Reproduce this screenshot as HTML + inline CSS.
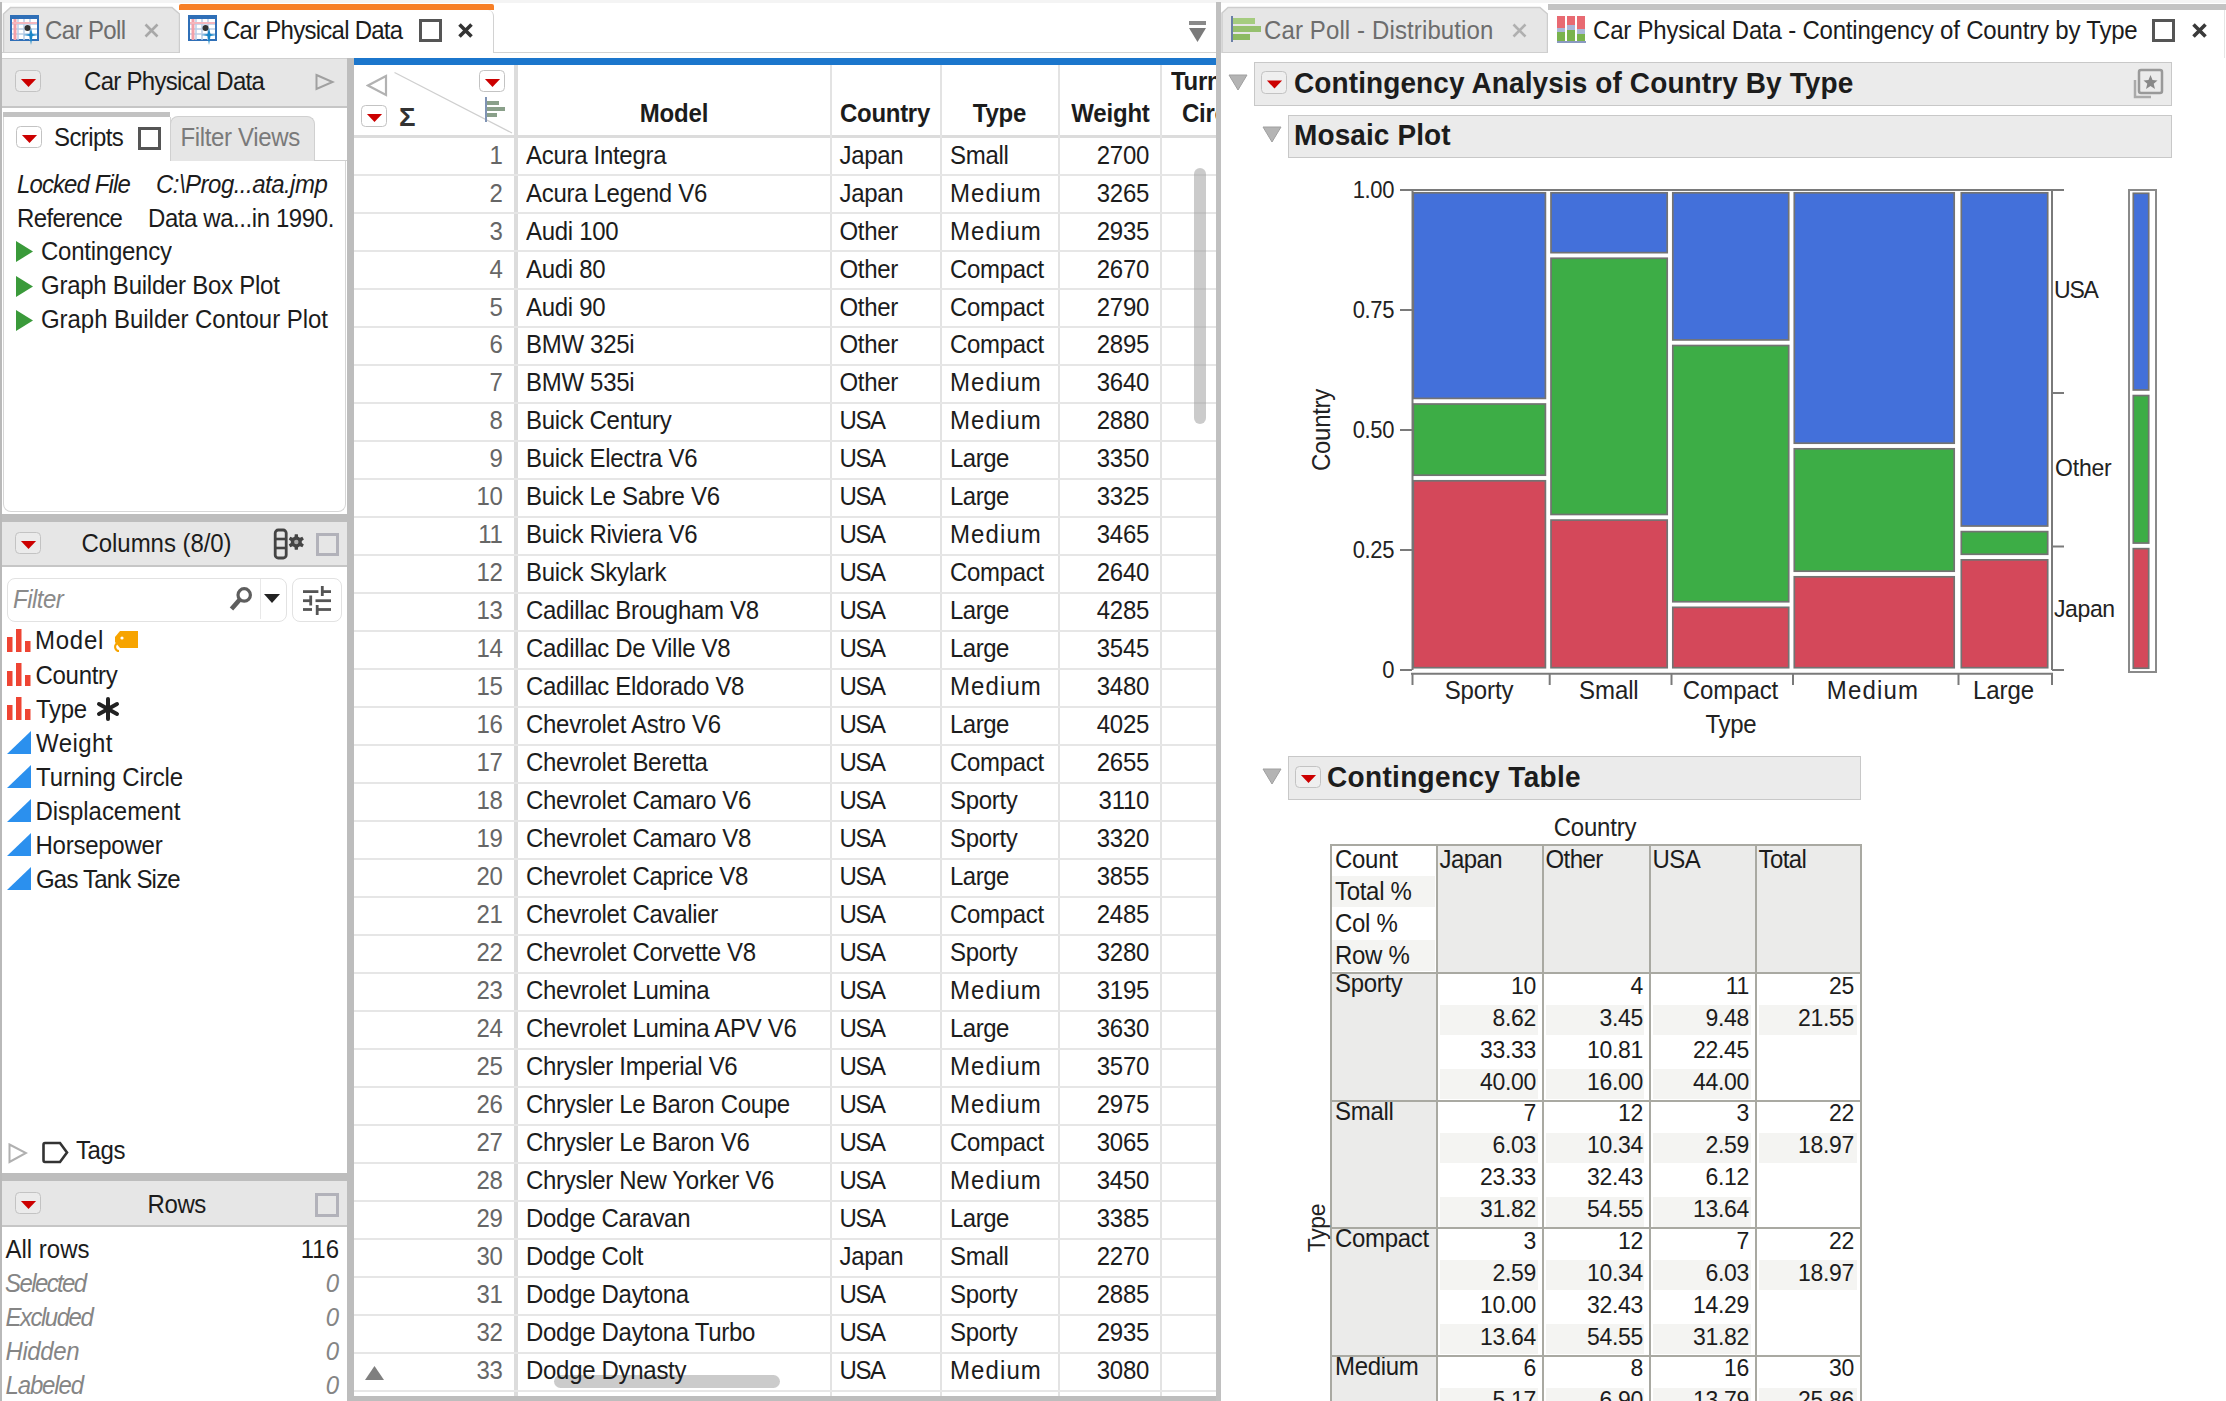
<!DOCTYPE html><html><head><meta charset="utf-8"><style>html,body{margin:0;padding:0;width:2226px;height:1401px;overflow:hidden;background:#fff;}body{font-family:"Liberation Sans", sans-serif;position:relative;}div,svg{position:absolute;box-sizing:content-box;}.t{white-space:nowrap;transform:scaleY(1.06);transform-origin:0 0.8467em;}</style></head><body>
<div style="left:0px;top:0px;width:2226px;height:3px;background:#f4f4f4;"></div>
<div style="left:0px;top:2px;width:2px;height:1401px;background:#b9b9b9;"></div>
<svg style="left:0px;top:0px;" width="200" height="56" viewBox="0 0 200 56"><path d="M3.5 53 V14 L10.5 7.5 H172 L179.5 14 V53" fill="#e6e6e6" stroke="#cdcdcd" stroke-width="1.5"/></svg>
<svg style="left:10px;top:15px;" width="31" height="31" viewBox="0 0 31 31"><rect x="1" y="1" width="27" height="24" fill="#fff" stroke="#2f6fb7" stroke-width="2"/><rect x="1" y="1" width="27" height="3" fill="#2f6fb7"/><g stroke="#b9cde6" stroke-width="1.5"><line x1="2" y1="9" x2="27" y2="9"/><line x1="2" y1="14" x2="27" y2="14"/><line x1="2" y1="19" x2="27" y2="19"/><line x1="8" y1="4" x2="8" y2="25"/><line x1="14" y1="4" x2="14" y2="25"/><line x1="20" y1="4" x2="20" y2="25"/></g><line x1="5" y1="4" x2="5" y2="25" stroke="#f3a0a8" stroke-width="3"/><line x1="2" y1="8" x2="27" y2="8" stroke="#f4b6bd" stroke-width="2"/><circle cx="17.5" cy="13" r="3" fill="#333"/><path d="M21 13 L22.5 19 L29 20 L22.5 21 L21 30 L19.5 21 L13 20 L19.5 19 Z" fill="#1a86c8"/></svg>
<div class="t" style="top:18.68px;font-size:24px;line-height:1;color:#6d6d6d;letter-spacing:-0.6px;left:45px;">Car Poll</div>
<svg style="left:144px;top:23px;" width="15" height="15" viewBox="0 0 15 15"><path d="M1.5 1.5 L13.5 13.5 M13.5 1.5 L1.5 13.5" stroke="#a8a8a8" stroke-width="2.6"/></svg>
<div style="left:179px;top:4px;width:315px;height:6px;background:#f77f26;border-radius:2px 2px 0 0;"></div>
<div style="left:180px;top:10px;width:313px;height:43px;background:#fff;border-right:1px solid #d2d2d2;border-top-right-radius:6px;"></div>
<svg style="left:188px;top:15px;" width="31" height="31" viewBox="0 0 31 31"><rect x="1" y="1" width="27" height="24" fill="#fff" stroke="#2f6fb7" stroke-width="2"/><rect x="1" y="1" width="27" height="3" fill="#2f6fb7"/><g stroke="#b9cde6" stroke-width="1.5"><line x1="2" y1="9" x2="27" y2="9"/><line x1="2" y1="14" x2="27" y2="14"/><line x1="2" y1="19" x2="27" y2="19"/><line x1="8" y1="4" x2="8" y2="25"/><line x1="14" y1="4" x2="14" y2="25"/><line x1="20" y1="4" x2="20" y2="25"/></g><line x1="5" y1="4" x2="5" y2="25" stroke="#f3a0a8" stroke-width="3"/><line x1="2" y1="8" x2="27" y2="8" stroke="#f4b6bd" stroke-width="2"/><circle cx="17.5" cy="13" r="3" fill="#333"/><path d="M21 13 L22.5 19 L29 20 L22.5 21 L21 30 L19.5 21 L13 20 L19.5 19 Z" fill="#1a86c8"/></svg>
<div class="t" style="top:18.68px;font-size:24px;line-height:1;color:#1c1c1c;letter-spacing:-0.75px;left:223px;">Car Physical Data</div>
<div style="left:419px;top:19px;width:17px;height:17px;border:3px solid #555;"></div>
<svg style="left:458px;top:23px;" width="15" height="15" viewBox="0 0 15 15"><path d="M1.5 1.5 L13.5 13.5 M13.5 1.5 L1.5 13.5" stroke="#333" stroke-width="3.6"/></svg>
<div style="left:2px;top:52px;width:177px;height:1px;background:#cfcfcf;"></div>
<div style="left:494px;top:52px;width:722px;height:1px;background:#d2d2d2;"></div>
<svg style="left:1188px;top:20px;" width="20" height="24" viewBox="0 0 20 24"><rect x="1" y="1" width="17" height="4" fill="#8a8a8a"/><polygon points="1,8 18,8 9.5,22" fill="#7a7a7a"/></svg>
<div style="left:2px;top:58px;width:345px;height:47px;background:#e6e6e6;border-top:1px solid #cfcfcf;border-bottom:2px solid #c6c6c6;"></div>
<div style="left:15px;top:70px;width:24px;height:20px;border:1.5px solid #c3c3c3;border-radius:4.5px;background:rgba(255,255,255,0.2);"></div>
<svg style="left:15px;top:70px;" width="27" height="23" viewBox="0 0 27 23"><polygon points="5.9,8.9 21.1,8.9 13.5,17.1" fill="#cc0000"/></svg>
<div class="t" style="top:69.68px;font-size:24px;line-height:1;color:#1c1c1c;letter-spacing:-0.7px;left:84px;">Car Physical Data</div>
<svg style="left:313px;top:72px;" width="22" height="22" viewBox="0 0 22 22"><polygon points="3.5,3 19.5,10 3.5,17" fill="none" stroke="#a0a0a0" stroke-width="2"/></svg>
<div style="left:3px;top:112px;width:167px;height:5px;background:#c2c2c2;"></div>
<div style="left:3px;top:117px;width:166px;height:45px;background:#fff;border-left:1px solid #d6d6d6;border-right:1px solid #d6d6d6;"></div>
<div style="left:16px;top:126px;width:24px;height:20px;border:1.5px solid #c3c3c3;border-radius:4.5px;background:rgba(255,255,255,0.2);"></div>
<svg style="left:16px;top:126px;" width="27" height="23" viewBox="0 0 27 23"><polygon points="5.9,8.9 21.1,8.9 13.5,17.1" fill="#cc0000"/></svg>
<div class="t" style="top:126.18px;font-size:24px;line-height:1;color:#1c1c1c;letter-spacing:-0.6px;left:54px;">Scripts</div>
<div style="left:138px;top:127px;width:17px;height:17px;border:3px solid #555;"></div>
<div style="left:170px;top:116px;width:143px;height:44px;background:#e6e6e6;border:1px solid #d0d0d0;border-bottom:none;border-radius:8px 8px 0 0;"></div>
<div class="t" style="top:126.18px;font-size:24px;line-height:1;color:#7a7a7a;letter-spacing:-0.35px;left:180.5px;">Filter Views</div>
<div style="left:314px;top:160px;width:33px;height:1px;background:#d0d0d0;"></div>
<div style="left:3px;top:161px;width:341px;height:350px;background:#fff;border:1px solid #d6d6d6;border-top:none;border-radius:0 0 8px 8px;"></div>
<div class="t" style="top:172.68px;font-size:24px;line-height:1;color:#1c1c1c;font-style:italic;letter-spacing:-0.9px;left:17px;">Locked File</div>
<div class="t" style="top:172.68px;font-size:24px;line-height:1;color:#1c1c1c;font-style:italic;letter-spacing:-0.52px;left:156px;">C:\Prog...ata.jmp</div>
<div class="t" style="top:206.68px;font-size:24px;line-height:1;color:#1c1c1c;letter-spacing:-0.6px;left:17px;">Reference</div>
<div class="t" style="top:206.68px;font-size:24px;line-height:1;color:#1c1c1c;letter-spacing:-0.42px;left:148px;">Data wa...in 1990.</div>
<svg style="left:16px;top:241.39999999999998px;" width="18" height="22" viewBox="0 0 18 22"><polygon points="0,0 17,10.5 0,21" fill="#3a9a3a"/></svg>
<div class="t" style="top:240.08px;font-size:24px;line-height:1;color:#1c1c1c;letter-spacing:-0.25px;left:41px;">Contingency</div>
<svg style="left:16px;top:275.59999999999997px;" width="18" height="22" viewBox="0 0 18 22"><polygon points="0,0 17,10.5 0,21" fill="#3a9a3a"/></svg>
<div class="t" style="top:274.28px;font-size:24px;line-height:1;color:#1c1c1c;letter-spacing:-0.25px;left:41px;">Graph Builder Box Plot</div>
<svg style="left:16px;top:309.79999999999995px;" width="18" height="22" viewBox="0 0 18 22"><polygon points="0,0 17,10.5 0,21" fill="#3a9a3a"/></svg>
<div class="t" style="top:308.48px;font-size:24px;line-height:1;color:#1c1c1c;letter-spacing:-0.05px;left:41px;">Graph Builder Contour Plot</div>
<div style="left:2px;top:514px;width:345px;height:8px;background:#bdbdbd;"></div>
<div style="left:2px;top:522px;width:345px;height:43px;background:#e6e6e6;border-bottom:2px solid #c6c6c6;"></div>
<div style="left:15px;top:532px;width:24px;height:20px;border:1.5px solid #c3c3c3;border-radius:4.5px;background:rgba(255,255,255,0.2);"></div>
<svg style="left:15px;top:532px;" width="27" height="23" viewBox="0 0 27 23"><polygon points="5.9,8.9 21.1,8.9 13.5,17.1" fill="#cc0000"/></svg>
<div class="t" style="top:532.08px;font-size:24px;line-height:1;color:#1c1c1c;letter-spacing:-0.05px;left:81.5px;">Columns (8/0)</div>
<svg style="left:272px;top:527px;" width="34" height="34" viewBox="0 0 34 34"><rect x="3.2" y="3" width="11" height="28" rx="3" fill="none" stroke="#444" stroke-width="2.8"/><line x1="3" y1="12" x2="14.5" y2="12" stroke="#444" stroke-width="2.6"/><line x1="3" y1="21" x2="14.5" y2="21" stroke="#444" stroke-width="2.6"/><polygon points="22.77,7.15 25.83,7.15 26.12,9.71 27.97,10.77 30.34,9.75 31.86,12.40 29.80,13.93 29.80,16.07 31.86,17.60 30.34,20.25 27.97,19.23 26.12,20.29 25.83,22.85 22.77,22.85 22.48,20.29 20.63,19.23 18.26,20.25 16.74,17.60 18.80,16.07 18.80,13.93 16.74,12.40 18.26,9.75 20.63,10.77 22.48,9.71" fill="#444"/><circle cx="24.3" cy="15" r="2.2" fill="#aaa"/></svg>
<div style="left:316px;top:533px;width:17px;height:17px;border:3px solid #b2b2ba;"></div>
<div style="left:7px;top:578px;width:278px;height:42px;border:1px solid #e2e2e2;border-radius:8px;background:#fff;"></div>
<div style="left:260px;top:579px;width:1px;height:40px;background:#e8e8e8;"></div>
<div class="t" style="top:587.68px;font-size:24px;line-height:1;color:#8a8a8a;font-style:italic;letter-spacing:-0.5px;left:13px;">Filter</div>
<svg style="left:226px;top:584px;" width="32" height="32" viewBox="0 0 32 32"><circle cx="18.2" cy="10.9" r="6.2" fill="none" stroke="#5e5e5e" stroke-width="3.2"/><line x1="13.6" y1="15.8" x2="5.5" y2="25" stroke="#5e5e5e" stroke-width="4.6"/></svg>
<svg style="left:263px;top:593px;" width="18" height="11" viewBox="0 0 18 11"><polygon points="1,1 17,1 9,10" fill="#222"/></svg>
<div style="left:292px;top:578px;width:48px;height:42px;border:1px solid #e2e2e2;border-radius:8px;background:#fff;"></div>
<svg style="left:300px;top:582px;" width="36" height="36" viewBox="0 0 36 36"><g stroke="#555" stroke-width="2.8"><line x1="3" y1="9.6" x2="18.4" y2="9.6"/><line x1="21" y1="9.6" x2="31" y2="9.6"/><line x1="22.3" y1="4" x2="22.3" y2="14"/><line x1="3" y1="18.7" x2="10.5" y2="18.7"/><line x1="15.5" y1="18.7" x2="31" y2="18.7"/><line x1="10.7" y1="13.5" x2="10.7" y2="23.5"/><line x1="3" y1="27.5" x2="12" y2="27.5"/><line x1="16" y1="27.5" x2="31" y2="27.5"/><line x1="17.2" y1="23" x2="17.2" y2="33"/></g></svg>
<svg style="left:7px;top:629.3px;" width="25" height="24" viewBox="0 0 25 24"><rect x="0" y="8" width="5.5" height="15" fill="#ee4433"/><rect x="9" y="0" width="5.5" height="23" fill="#ee4433"/><rect x="18" y="12" width="5.5" height="11" fill="#ee4433"/></svg>
<div class="t" style="top:629.48px;font-size:24px;line-height:1;color:#1c1c1c;letter-spacing:0.75px;left:35px;">Model</div>
<svg style="left:7px;top:663.38px;" width="25" height="24" viewBox="0 0 25 24"><rect x="0" y="8" width="5.5" height="15" fill="#ee4433"/><rect x="9" y="0" width="5.5" height="23" fill="#ee4433"/><rect x="18" y="12" width="5.5" height="11" fill="#ee4433"/></svg>
<div class="t" style="top:663.56px;font-size:24px;line-height:1;color:#1c1c1c;letter-spacing:-0.3px;left:35.5px;">Country</div>
<svg style="left:7px;top:697.4599999999999px;" width="25" height="24" viewBox="0 0 25 24"><rect x="0" y="8" width="5.5" height="15" fill="#ee4433"/><rect x="9" y="0" width="5.5" height="23" fill="#ee4433"/><rect x="18" y="12" width="5.5" height="11" fill="#ee4433"/></svg>
<div class="t" style="top:697.64px;font-size:24px;line-height:1;color:#1c1c1c;letter-spacing:-0.3px;left:36px;">Type</div>
<svg style="left:7px;top:731.04px;" width="25" height="24" viewBox="0 0 25 24"><polygon points="0,23 24,23 24,0" fill="#2b90ee"/></svg>
<div class="t" style="top:731.72px;font-size:24px;line-height:1;color:#1c1c1c;letter-spacing:0.45px;left:36px;">Weight</div>
<svg style="left:7px;top:765.1199999999999px;" width="25" height="24" viewBox="0 0 25 24"><polygon points="0,23 24,23 24,0" fill="#2b90ee"/></svg>
<div class="t" style="top:765.80px;font-size:24px;line-height:1;color:#1c1c1c;letter-spacing:-0.1px;left:36px;">Turning Circle</div>
<svg style="left:7px;top:799.1999999999999px;" width="25" height="24" viewBox="0 0 25 24"><polygon points="0,23 24,23 24,0" fill="#2b90ee"/></svg>
<div class="t" style="top:799.88px;font-size:24px;line-height:1;color:#1c1c1c;letter-spacing:-0.05px;left:35.5px;">Displacement</div>
<svg style="left:7px;top:833.28px;" width="25" height="24" viewBox="0 0 25 24"><polygon points="0,23 24,23 24,0" fill="#2b90ee"/></svg>
<div class="t" style="top:833.96px;font-size:24px;line-height:1;color:#1c1c1c;letter-spacing:-0.25px;left:35.5px;">Horsepower</div>
<svg style="left:7px;top:867.3599999999999px;" width="25" height="24" viewBox="0 0 25 24"><polygon points="0,23 24,23 24,0" fill="#2b90ee"/></svg>
<div class="t" style="top:868.04px;font-size:24px;line-height:1;color:#1c1c1c;letter-spacing:-0.8px;left:36px;">Gas Tank Size</div>
<svg style="left:112px;top:629px;" width="28" height="24" viewBox="0 0 28 24"><path d="M8 2 H26 V19 H8 L3 13 V8 Z" fill="#f7a400"/><circle cx="10" cy="9" r="1.6" fill="#fff"/><path d="M5 14 C1 18 4 22 7 22" fill="none" stroke="#f7a400" stroke-width="2"/></svg>
<svg style="left:96px;top:697px;" width="24" height="24" viewBox="0 0 24 24"><g stroke="#222" stroke-width="4" stroke-linecap="round"><line x1="12" y1="2" x2="12" y2="22"/><line x1="3" y1="7" x2="21" y2="17"/><line x1="3" y1="17" x2="21" y2="7"/></g></svg>
<svg style="left:8px;top:1143px;" width="20" height="21" viewBox="0 0 20 21"><polygon points="1.5,1.5 18,10 1.5,19" fill="none" stroke="#b0b0b0" stroke-width="2"/></svg>
<svg style="left:42px;top:1141px;" width="28" height="23" viewBox="0 0 28 23"><path d="M3 2 H18 L25 11.5 L18 21 H3 Q1.5 21 1.5 19 V4 Q1.5 2 3 2 Z" fill="none" stroke="#333" stroke-width="2.6"/></svg>
<div class="t" style="top:1139.28px;font-size:24px;line-height:1;color:#1c1c1c;letter-spacing:-0.4px;left:76px;">Tags</div>
<div style="left:2px;top:1173px;width:345px;height:8px;background:#bdbdbd;"></div>
<div style="left:2px;top:1181px;width:345px;height:44px;background:#e6e6e6;border-bottom:2px solid #c6c6c6;"></div>
<div style="left:15px;top:1192px;width:24px;height:20px;border:1.5px solid #c3c3c3;border-radius:4.5px;background:rgba(255,255,255,0.2);"></div>
<svg style="left:15px;top:1192px;" width="27" height="23" viewBox="0 0 27 23"><polygon points="5.9,8.9 21.1,8.9 13.5,17.1" fill="#cc0000"/></svg>
<div class="t" style="top:1192.68px;font-size:24px;line-height:1;color:#1c1c1c;letter-spacing:-0.4px;left:147.5px;">Rows</div>
<div style="left:315px;top:1193px;width:18px;height:18px;border:3px solid #b2b2ba;"></div>
<div class="t" style="top:1237.98px;font-size:24px;line-height:1;color:#1c1c1c;letter-spacing:0.0px;left:5.5px;">All rows</div>
<div class="t" style="top:1237.98px;font-size:24px;line-height:1;color:#1c1c1c;right:1887px;">116</div>
<div class="t" style="top:1272.08px;font-size:24px;line-height:1;color:#858585;font-style:italic;letter-spacing:-1.6px;left:5px;">Selected</div>
<div class="t" style="top:1272.08px;font-size:24px;line-height:1;color:#858585;font-style:italic;right:1887px;">0</div>
<div class="t" style="top:1306.18px;font-size:24px;line-height:1;color:#858585;font-style:italic;letter-spacing:-1.5px;left:5.5px;">Excluded</div>
<div class="t" style="top:1306.18px;font-size:24px;line-height:1;color:#858585;font-style:italic;right:1887px;">0</div>
<div class="t" style="top:1340.28px;font-size:24px;line-height:1;color:#858585;font-style:italic;letter-spacing:-0.4px;left:5.5px;">Hidden</div>
<div class="t" style="top:1340.28px;font-size:24px;line-height:1;color:#858585;font-style:italic;right:1887px;">0</div>
<div class="t" style="top:1374.38px;font-size:24px;line-height:1;color:#858585;font-style:italic;letter-spacing:-1.15px;left:5.5px;">Labeled</div>
<div class="t" style="top:1374.38px;font-size:24px;line-height:1;color:#858585;font-style:italic;right:1887px;">0</div>
<div style="left:347px;top:58px;width:7px;height:1343px;background:#bdbdbd;"></div>
<div style="left:354px;top:58px;width:862px;height:7px;background:#1b76cc;"></div>
<div style="left:354px;top:135px;width:862px;height:3px;background:#dcdcdc;"></div>
<div style="left:514px;top:65px;width:4px;height:1336px;background:#dcdcdc;"></div>
<div style="left:479px;top:70px;width:24px;height:20px;border:1.5px solid #c3c3c3;border-radius:4.5px;background:rgba(255,255,255,0.2);"></div>
<svg style="left:479px;top:70px;" width="27" height="23" viewBox="0 0 27 23"><polygon points="5.9,8.9 21.1,8.9 13.5,17.1" fill="#cc0000"/></svg>
<div style="left:361px;top:105px;width:24px;height:20px;border:1.5px solid #c3c3c3;border-radius:4.5px;background:rgba(255,255,255,0.2);"></div>
<svg style="left:361px;top:105px;" width="27" height="23" viewBox="0 0 27 23"><polygon points="5.9,8.9 21.1,8.9 13.5,17.1" fill="#cc0000"/></svg>
<svg style="left:366px;top:74px;" width="22" height="24" viewBox="0 0 22 24"><polygon points="20,2 2,11.5 20,21" fill="none" stroke="#b2b2b2" stroke-width="2.2"/></svg>
<div class="t" style="top:104.83px;font-size:25px;line-height:1;color:#333;font-weight:700;left:399px;transform:scaleX(1.1);">&#931;</div>
<svg style="left:394px;top:72px;" width="120" height="62" viewBox="0 0 120 62"><line x1="0.5" y1="0.5" x2="118" y2="61" stroke="#cfcfcf" stroke-width="1.2"/></svg>
<svg style="left:484px;top:97px;" width="24" height="26" viewBox="0 0 24 26"><rect x="1" y="0" width="2" height="25" fill="#7f93b4"/><rect x="3" y="4" width="12" height="4" fill="#8aa08a"/><rect x="3" y="10" width="18" height="4" fill="#8aa08a"/><rect x="3" y="16" width="10" height="4" fill="#8aa08a"/></svg>
<div style="left:829.5px;top:65px;width:2px;height:1336px;background:#e3e3e3;"></div>
<div style="left:940px;top:65px;width:2px;height:1336px;background:#e3e3e3;"></div>
<div style="left:1058px;top:65px;width:2px;height:1336px;background:#e3e3e3;"></div>
<div style="left:1160px;top:65px;width:2px;height:1336px;background:#e3e3e3;"></div>
<div class="t" style="top:102.48px;font-size:24px;line-height:1;color:#1c1c1c;font-weight:700;letter-spacing:-0.2px;left:74px;width:1200px;text-align:center;">Model</div>
<div class="t" style="top:102.48px;font-size:24px;line-height:1;color:#1c1c1c;font-weight:700;letter-spacing:-0.3px;left:285px;width:1200px;text-align:center;">Country</div>
<div class="t" style="top:102.48px;font-size:24px;line-height:1;color:#1c1c1c;font-weight:700;letter-spacing:-0.2px;left:399.5px;width:1200px;text-align:center;">Type</div>
<div class="t" style="top:102.48px;font-size:24px;line-height:1;color:#1c1c1c;font-weight:700;letter-spacing:-0.2px;left:510.5px;width:1200px;text-align:center;">Weight</div>
<div style="left:1163px;top:60px;width:53px;height:76px;overflow:hidden;">
<div class="t" style="top:9.68px;font-size:24px;line-height:1;color:#1c1c1c;font-weight:700;letter-spacing:-0.3px;left:8px;">Turning</div>
<div class="t" style="top:42.48px;font-size:24px;line-height:1;color:#1c1c1c;font-weight:700;letter-spacing:-0.3px;left:19px;">Circle</div>
</div>
<div style="left:554px;top:1375px;width:226px;height:13px;background:rgba(160,160,160,0.55);border-radius:7px;"></div>
<div style="left:354px;top:173.8px;width:862px;height:2px;background:#e6e6e6;"></div>
<div class="t" style="top:143.58px;font-size:24px;line-height:1;color:#666;letter-spacing:-0.3px;right:1723.5px;">1</div>
<div class="t" style="top:143.58px;font-size:24px;line-height:1;color:#1c1c1c;letter-spacing:-0.3px;left:526px;">Acura Integra</div>
<div class="t" style="top:143.58px;font-size:24px;line-height:1;color:#1c1c1c;letter-spacing:-0.3px;left:839.5px;">Japan</div>
<div class="t" style="top:143.58px;font-size:24px;line-height:1;color:#1c1c1c;letter-spacing:-0.3px;left:950px;">Small</div>
<div class="t" style="top:143.58px;font-size:24px;line-height:1;color:#1c1c1c;letter-spacing:-0.3px;right:1077px;">2700</div>
<div style="left:354px;top:211.8px;width:862px;height:2px;background:#e6e6e6;"></div>
<div class="t" style="top:181.56px;font-size:24px;line-height:1;color:#666;letter-spacing:-0.3px;right:1723.5px;">2</div>
<div class="t" style="top:181.56px;font-size:24px;line-height:1;color:#1c1c1c;letter-spacing:-0.3px;left:526px;">Acura Legend V6</div>
<div class="t" style="top:181.56px;font-size:24px;line-height:1;color:#1c1c1c;letter-spacing:-0.3px;left:839.5px;">Japan</div>
<div class="t" style="top:181.56px;font-size:24px;line-height:1;color:#1c1c1c;letter-spacing:1.1px;left:950px;">Medium</div>
<div class="t" style="top:181.56px;font-size:24px;line-height:1;color:#1c1c1c;letter-spacing:-0.3px;right:1077px;">3265</div>
<div style="left:354px;top:249.8px;width:862px;height:2px;background:#e6e6e6;"></div>
<div class="t" style="top:219.54px;font-size:24px;line-height:1;color:#666;letter-spacing:-0.3px;right:1723.5px;">3</div>
<div class="t" style="top:219.54px;font-size:24px;line-height:1;color:#1c1c1c;letter-spacing:-0.3px;left:526px;">Audi 100</div>
<div class="t" style="top:219.54px;font-size:24px;line-height:1;color:#1c1c1c;letter-spacing:-0.3px;left:839.5px;">Other</div>
<div class="t" style="top:219.54px;font-size:24px;line-height:1;color:#1c1c1c;letter-spacing:1.1px;left:950px;">Medium</div>
<div class="t" style="top:219.54px;font-size:24px;line-height:1;color:#1c1c1c;letter-spacing:-0.3px;right:1077px;">2935</div>
<div style="left:354px;top:287.8px;width:862px;height:2px;background:#e6e6e6;"></div>
<div class="t" style="top:257.52px;font-size:24px;line-height:1;color:#666;letter-spacing:-0.3px;right:1723.5px;">4</div>
<div class="t" style="top:257.52px;font-size:24px;line-height:1;color:#1c1c1c;letter-spacing:-0.3px;left:526px;">Audi 80</div>
<div class="t" style="top:257.52px;font-size:24px;line-height:1;color:#1c1c1c;letter-spacing:-0.3px;left:839.5px;">Other</div>
<div class="t" style="top:257.52px;font-size:24px;line-height:1;color:#1c1c1c;letter-spacing:-0.3px;left:950px;">Compact</div>
<div class="t" style="top:257.52px;font-size:24px;line-height:1;color:#1c1c1c;letter-spacing:-0.3px;right:1077px;">2670</div>
<div style="left:354px;top:325.8px;width:862px;height:2px;background:#e6e6e6;"></div>
<div class="t" style="top:295.50px;font-size:24px;line-height:1;color:#666;letter-spacing:-0.3px;right:1723.5px;">5</div>
<div class="t" style="top:295.50px;font-size:24px;line-height:1;color:#1c1c1c;letter-spacing:-0.3px;left:526px;">Audi 90</div>
<div class="t" style="top:295.50px;font-size:24px;line-height:1;color:#1c1c1c;letter-spacing:-0.3px;left:839.5px;">Other</div>
<div class="t" style="top:295.50px;font-size:24px;line-height:1;color:#1c1c1c;letter-spacing:-0.3px;left:950px;">Compact</div>
<div class="t" style="top:295.50px;font-size:24px;line-height:1;color:#1c1c1c;letter-spacing:-0.3px;right:1077px;">2790</div>
<div style="left:354px;top:363.8px;width:862px;height:2px;background:#e6e6e6;"></div>
<div class="t" style="top:333.48px;font-size:24px;line-height:1;color:#666;letter-spacing:-0.3px;right:1723.5px;">6</div>
<div class="t" style="top:333.48px;font-size:24px;line-height:1;color:#1c1c1c;letter-spacing:-0.3px;left:526px;">BMW 325i</div>
<div class="t" style="top:333.48px;font-size:24px;line-height:1;color:#1c1c1c;letter-spacing:-0.3px;left:839.5px;">Other</div>
<div class="t" style="top:333.48px;font-size:24px;line-height:1;color:#1c1c1c;letter-spacing:-0.3px;left:950px;">Compact</div>
<div class="t" style="top:333.48px;font-size:24px;line-height:1;color:#1c1c1c;letter-spacing:-0.3px;right:1077px;">2895</div>
<div style="left:354px;top:401.7px;width:862px;height:2px;background:#e6e6e6;"></div>
<div class="t" style="top:371.46px;font-size:24px;line-height:1;color:#666;letter-spacing:-0.3px;right:1723.5px;">7</div>
<div class="t" style="top:371.46px;font-size:24px;line-height:1;color:#1c1c1c;letter-spacing:-0.3px;left:526px;">BMW 535i</div>
<div class="t" style="top:371.46px;font-size:24px;line-height:1;color:#1c1c1c;letter-spacing:-0.3px;left:839.5px;">Other</div>
<div class="t" style="top:371.46px;font-size:24px;line-height:1;color:#1c1c1c;letter-spacing:1.1px;left:950px;">Medium</div>
<div class="t" style="top:371.46px;font-size:24px;line-height:1;color:#1c1c1c;letter-spacing:-0.3px;right:1077px;">3640</div>
<div style="left:354px;top:439.7px;width:862px;height:2px;background:#e6e6e6;"></div>
<div class="t" style="top:409.44px;font-size:24px;line-height:1;color:#666;letter-spacing:-0.3px;right:1723.5px;">8</div>
<div class="t" style="top:409.44px;font-size:24px;line-height:1;color:#1c1c1c;letter-spacing:-0.3px;left:526px;">Buick Century</div>
<div class="t" style="top:409.44px;font-size:24px;line-height:1;color:#1c1c1c;letter-spacing:-1.4px;left:839.5px;">USA</div>
<div class="t" style="top:409.44px;font-size:24px;line-height:1;color:#1c1c1c;letter-spacing:1.1px;left:950px;">Medium</div>
<div class="t" style="top:409.44px;font-size:24px;line-height:1;color:#1c1c1c;letter-spacing:-0.3px;right:1077px;">2880</div>
<div style="left:354px;top:477.7px;width:862px;height:2px;background:#e6e6e6;"></div>
<div class="t" style="top:447.42px;font-size:24px;line-height:1;color:#666;letter-spacing:-0.3px;right:1723.5px;">9</div>
<div class="t" style="top:447.42px;font-size:24px;line-height:1;color:#1c1c1c;letter-spacing:-0.3px;left:526px;">Buick Electra V6</div>
<div class="t" style="top:447.42px;font-size:24px;line-height:1;color:#1c1c1c;letter-spacing:-1.4px;left:839.5px;">USA</div>
<div class="t" style="top:447.42px;font-size:24px;line-height:1;color:#1c1c1c;letter-spacing:-0.5px;left:950px;">Large</div>
<div class="t" style="top:447.42px;font-size:24px;line-height:1;color:#1c1c1c;letter-spacing:-0.3px;right:1077px;">3350</div>
<div style="left:354px;top:515.7px;width:862px;height:2px;background:#e6e6e6;"></div>
<div class="t" style="top:485.40px;font-size:24px;line-height:1;color:#666;letter-spacing:-0.3px;right:1723.5px;">10</div>
<div class="t" style="top:485.40px;font-size:24px;line-height:1;color:#1c1c1c;letter-spacing:-0.3px;left:526px;">Buick Le Sabre V6</div>
<div class="t" style="top:485.40px;font-size:24px;line-height:1;color:#1c1c1c;letter-spacing:-1.4px;left:839.5px;">USA</div>
<div class="t" style="top:485.40px;font-size:24px;line-height:1;color:#1c1c1c;letter-spacing:-0.5px;left:950px;">Large</div>
<div class="t" style="top:485.40px;font-size:24px;line-height:1;color:#1c1c1c;letter-spacing:-0.3px;right:1077px;">3325</div>
<div style="left:354px;top:553.7px;width:862px;height:2px;background:#e6e6e6;"></div>
<div class="t" style="top:523.38px;font-size:24px;line-height:1;color:#666;letter-spacing:-0.3px;right:1723.5px;">11</div>
<div class="t" style="top:523.38px;font-size:24px;line-height:1;color:#1c1c1c;letter-spacing:-0.3px;left:526px;">Buick Riviera V6</div>
<div class="t" style="top:523.38px;font-size:24px;line-height:1;color:#1c1c1c;letter-spacing:-1.4px;left:839.5px;">USA</div>
<div class="t" style="top:523.38px;font-size:24px;line-height:1;color:#1c1c1c;letter-spacing:1.1px;left:950px;">Medium</div>
<div class="t" style="top:523.38px;font-size:24px;line-height:1;color:#1c1c1c;letter-spacing:-0.3px;right:1077px;">3465</div>
<div style="left:354px;top:591.7px;width:862px;height:2px;background:#e6e6e6;"></div>
<div class="t" style="top:561.36px;font-size:24px;line-height:1;color:#666;letter-spacing:-0.3px;right:1723.5px;">12</div>
<div class="t" style="top:561.36px;font-size:24px;line-height:1;color:#1c1c1c;letter-spacing:-0.3px;left:526px;">Buick Skylark</div>
<div class="t" style="top:561.36px;font-size:24px;line-height:1;color:#1c1c1c;letter-spacing:-1.4px;left:839.5px;">USA</div>
<div class="t" style="top:561.36px;font-size:24px;line-height:1;color:#1c1c1c;letter-spacing:-0.3px;left:950px;">Compact</div>
<div class="t" style="top:561.36px;font-size:24px;line-height:1;color:#1c1c1c;letter-spacing:-0.3px;right:1077px;">2640</div>
<div style="left:354px;top:629.7px;width:862px;height:2px;background:#e6e6e6;"></div>
<div class="t" style="top:599.34px;font-size:24px;line-height:1;color:#666;letter-spacing:-0.3px;right:1723.5px;">13</div>
<div class="t" style="top:599.34px;font-size:24px;line-height:1;color:#1c1c1c;letter-spacing:-0.3px;left:526px;">Cadillac Brougham V8</div>
<div class="t" style="top:599.34px;font-size:24px;line-height:1;color:#1c1c1c;letter-spacing:-1.4px;left:839.5px;">USA</div>
<div class="t" style="top:599.34px;font-size:24px;line-height:1;color:#1c1c1c;letter-spacing:-0.5px;left:950px;">Large</div>
<div class="t" style="top:599.34px;font-size:24px;line-height:1;color:#1c1c1c;letter-spacing:-0.3px;right:1077px;">4285</div>
<div style="left:354px;top:667.7px;width:862px;height:2px;background:#e6e6e6;"></div>
<div class="t" style="top:637.32px;font-size:24px;line-height:1;color:#666;letter-spacing:-0.3px;right:1723.5px;">14</div>
<div class="t" style="top:637.32px;font-size:24px;line-height:1;color:#1c1c1c;letter-spacing:-0.3px;left:526px;">Cadillac De Ville V8</div>
<div class="t" style="top:637.32px;font-size:24px;line-height:1;color:#1c1c1c;letter-spacing:-1.4px;left:839.5px;">USA</div>
<div class="t" style="top:637.32px;font-size:24px;line-height:1;color:#1c1c1c;letter-spacing:-0.5px;left:950px;">Large</div>
<div class="t" style="top:637.32px;font-size:24px;line-height:1;color:#1c1c1c;letter-spacing:-0.3px;right:1077px;">3545</div>
<div style="left:354px;top:705.7px;width:862px;height:2px;background:#e6e6e6;"></div>
<div class="t" style="top:675.30px;font-size:24px;line-height:1;color:#666;letter-spacing:-0.3px;right:1723.5px;">15</div>
<div class="t" style="top:675.30px;font-size:24px;line-height:1;color:#1c1c1c;letter-spacing:-0.3px;left:526px;">Cadillac Eldorado V8</div>
<div class="t" style="top:675.30px;font-size:24px;line-height:1;color:#1c1c1c;letter-spacing:-1.4px;left:839.5px;">USA</div>
<div class="t" style="top:675.30px;font-size:24px;line-height:1;color:#1c1c1c;letter-spacing:1.1px;left:950px;">Medium</div>
<div class="t" style="top:675.30px;font-size:24px;line-height:1;color:#1c1c1c;letter-spacing:-0.3px;right:1077px;">3480</div>
<div style="left:354px;top:743.7px;width:862px;height:2px;background:#e6e6e6;"></div>
<div class="t" style="top:713.28px;font-size:24px;line-height:1;color:#666;letter-spacing:-0.3px;right:1723.5px;">16</div>
<div class="t" style="top:713.28px;font-size:24px;line-height:1;color:#1c1c1c;letter-spacing:-0.3px;left:526px;">Chevrolet Astro V6</div>
<div class="t" style="top:713.28px;font-size:24px;line-height:1;color:#1c1c1c;letter-spacing:-1.4px;left:839.5px;">USA</div>
<div class="t" style="top:713.28px;font-size:24px;line-height:1;color:#1c1c1c;letter-spacing:-0.5px;left:950px;">Large</div>
<div class="t" style="top:713.28px;font-size:24px;line-height:1;color:#1c1c1c;letter-spacing:-0.3px;right:1077px;">4025</div>
<div style="left:354px;top:781.6px;width:862px;height:2px;background:#e6e6e6;"></div>
<div class="t" style="top:751.26px;font-size:24px;line-height:1;color:#666;letter-spacing:-0.3px;right:1723.5px;">17</div>
<div class="t" style="top:751.26px;font-size:24px;line-height:1;color:#1c1c1c;letter-spacing:-0.3px;left:526px;">Chevrolet Beretta</div>
<div class="t" style="top:751.26px;font-size:24px;line-height:1;color:#1c1c1c;letter-spacing:-1.4px;left:839.5px;">USA</div>
<div class="t" style="top:751.26px;font-size:24px;line-height:1;color:#1c1c1c;letter-spacing:-0.3px;left:950px;">Compact</div>
<div class="t" style="top:751.26px;font-size:24px;line-height:1;color:#1c1c1c;letter-spacing:-0.3px;right:1077px;">2655</div>
<div style="left:354px;top:819.6px;width:862px;height:2px;background:#e6e6e6;"></div>
<div class="t" style="top:789.24px;font-size:24px;line-height:1;color:#666;letter-spacing:-0.3px;right:1723.5px;">18</div>
<div class="t" style="top:789.24px;font-size:24px;line-height:1;color:#1c1c1c;letter-spacing:-0.3px;left:526px;">Chevrolet Camaro V6</div>
<div class="t" style="top:789.24px;font-size:24px;line-height:1;color:#1c1c1c;letter-spacing:-1.4px;left:839.5px;">USA</div>
<div class="t" style="top:789.24px;font-size:24px;line-height:1;color:#1c1c1c;letter-spacing:-0.3px;left:950px;">Sporty</div>
<div class="t" style="top:789.24px;font-size:24px;line-height:1;color:#1c1c1c;letter-spacing:-0.3px;right:1077px;">3110</div>
<div style="left:354px;top:857.6px;width:862px;height:2px;background:#e6e6e6;"></div>
<div class="t" style="top:827.22px;font-size:24px;line-height:1;color:#666;letter-spacing:-0.3px;right:1723.5px;">19</div>
<div class="t" style="top:827.22px;font-size:24px;line-height:1;color:#1c1c1c;letter-spacing:-0.3px;left:526px;">Chevrolet Camaro V8</div>
<div class="t" style="top:827.22px;font-size:24px;line-height:1;color:#1c1c1c;letter-spacing:-1.4px;left:839.5px;">USA</div>
<div class="t" style="top:827.22px;font-size:24px;line-height:1;color:#1c1c1c;letter-spacing:-0.3px;left:950px;">Sporty</div>
<div class="t" style="top:827.22px;font-size:24px;line-height:1;color:#1c1c1c;letter-spacing:-0.3px;right:1077px;">3320</div>
<div style="left:354px;top:895.6px;width:862px;height:2px;background:#e6e6e6;"></div>
<div class="t" style="top:865.20px;font-size:24px;line-height:1;color:#666;letter-spacing:-0.3px;right:1723.5px;">20</div>
<div class="t" style="top:865.20px;font-size:24px;line-height:1;color:#1c1c1c;letter-spacing:-0.3px;left:526px;">Chevrolet Caprice V8</div>
<div class="t" style="top:865.20px;font-size:24px;line-height:1;color:#1c1c1c;letter-spacing:-1.4px;left:839.5px;">USA</div>
<div class="t" style="top:865.20px;font-size:24px;line-height:1;color:#1c1c1c;letter-spacing:-0.5px;left:950px;">Large</div>
<div class="t" style="top:865.20px;font-size:24px;line-height:1;color:#1c1c1c;letter-spacing:-0.3px;right:1077px;">3855</div>
<div style="left:354px;top:933.6px;width:862px;height:2px;background:#e6e6e6;"></div>
<div class="t" style="top:903.18px;font-size:24px;line-height:1;color:#666;letter-spacing:-0.3px;right:1723.5px;">21</div>
<div class="t" style="top:903.18px;font-size:24px;line-height:1;color:#1c1c1c;letter-spacing:-0.3px;left:526px;">Chevrolet Cavalier</div>
<div class="t" style="top:903.18px;font-size:24px;line-height:1;color:#1c1c1c;letter-spacing:-1.4px;left:839.5px;">USA</div>
<div class="t" style="top:903.18px;font-size:24px;line-height:1;color:#1c1c1c;letter-spacing:-0.3px;left:950px;">Compact</div>
<div class="t" style="top:903.18px;font-size:24px;line-height:1;color:#1c1c1c;letter-spacing:-0.3px;right:1077px;">2485</div>
<div style="left:354px;top:971.6px;width:862px;height:2px;background:#e6e6e6;"></div>
<div class="t" style="top:941.16px;font-size:24px;line-height:1;color:#666;letter-spacing:-0.3px;right:1723.5px;">22</div>
<div class="t" style="top:941.16px;font-size:24px;line-height:1;color:#1c1c1c;letter-spacing:-0.3px;left:526px;">Chevrolet Corvette V8</div>
<div class="t" style="top:941.16px;font-size:24px;line-height:1;color:#1c1c1c;letter-spacing:-1.4px;left:839.5px;">USA</div>
<div class="t" style="top:941.16px;font-size:24px;line-height:1;color:#1c1c1c;letter-spacing:-0.3px;left:950px;">Sporty</div>
<div class="t" style="top:941.16px;font-size:24px;line-height:1;color:#1c1c1c;letter-spacing:-0.3px;right:1077px;">3280</div>
<div style="left:354px;top:1009.6px;width:862px;height:2px;background:#e6e6e6;"></div>
<div class="t" style="top:979.14px;font-size:24px;line-height:1;color:#666;letter-spacing:-0.3px;right:1723.5px;">23</div>
<div class="t" style="top:979.14px;font-size:24px;line-height:1;color:#1c1c1c;letter-spacing:-0.3px;left:526px;">Chevrolet Lumina</div>
<div class="t" style="top:979.14px;font-size:24px;line-height:1;color:#1c1c1c;letter-spacing:-1.4px;left:839.5px;">USA</div>
<div class="t" style="top:979.14px;font-size:24px;line-height:1;color:#1c1c1c;letter-spacing:1.1px;left:950px;">Medium</div>
<div class="t" style="top:979.14px;font-size:24px;line-height:1;color:#1c1c1c;letter-spacing:-0.3px;right:1077px;">3195</div>
<div style="left:354px;top:1047.6px;width:862px;height:2px;background:#e6e6e6;"></div>
<div class="t" style="top:1017.12px;font-size:24px;line-height:1;color:#666;letter-spacing:-0.3px;right:1723.5px;">24</div>
<div class="t" style="top:1017.12px;font-size:24px;line-height:1;color:#1c1c1c;letter-spacing:-0.3px;left:526px;">Chevrolet Lumina APV V6</div>
<div class="t" style="top:1017.12px;font-size:24px;line-height:1;color:#1c1c1c;letter-spacing:-1.4px;left:839.5px;">USA</div>
<div class="t" style="top:1017.12px;font-size:24px;line-height:1;color:#1c1c1c;letter-spacing:-0.5px;left:950px;">Large</div>
<div class="t" style="top:1017.12px;font-size:24px;line-height:1;color:#1c1c1c;letter-spacing:-0.3px;right:1077px;">3630</div>
<div style="left:354px;top:1085.6px;width:862px;height:2px;background:#e6e6e6;"></div>
<div class="t" style="top:1055.10px;font-size:24px;line-height:1;color:#666;letter-spacing:-0.3px;right:1723.5px;">25</div>
<div class="t" style="top:1055.10px;font-size:24px;line-height:1;color:#1c1c1c;letter-spacing:-0.3px;left:526px;">Chrysler Imperial V6</div>
<div class="t" style="top:1055.10px;font-size:24px;line-height:1;color:#1c1c1c;letter-spacing:-1.4px;left:839.5px;">USA</div>
<div class="t" style="top:1055.10px;font-size:24px;line-height:1;color:#1c1c1c;letter-spacing:1.1px;left:950px;">Medium</div>
<div class="t" style="top:1055.10px;font-size:24px;line-height:1;color:#1c1c1c;letter-spacing:-0.3px;right:1077px;">3570</div>
<div style="left:354px;top:1123.5px;width:862px;height:2px;background:#e6e6e6;"></div>
<div class="t" style="top:1093.08px;font-size:24px;line-height:1;color:#666;letter-spacing:-0.3px;right:1723.5px;">26</div>
<div class="t" style="top:1093.08px;font-size:24px;line-height:1;color:#1c1c1c;letter-spacing:-0.3px;left:526px;">Chrysler Le Baron Coupe</div>
<div class="t" style="top:1093.08px;font-size:24px;line-height:1;color:#1c1c1c;letter-spacing:-1.4px;left:839.5px;">USA</div>
<div class="t" style="top:1093.08px;font-size:24px;line-height:1;color:#1c1c1c;letter-spacing:1.1px;left:950px;">Medium</div>
<div class="t" style="top:1093.08px;font-size:24px;line-height:1;color:#1c1c1c;letter-spacing:-0.3px;right:1077px;">2975</div>
<div style="left:354px;top:1161.5px;width:862px;height:2px;background:#e6e6e6;"></div>
<div class="t" style="top:1131.06px;font-size:24px;line-height:1;color:#666;letter-spacing:-0.3px;right:1723.5px;">27</div>
<div class="t" style="top:1131.06px;font-size:24px;line-height:1;color:#1c1c1c;letter-spacing:-0.3px;left:526px;">Chrysler Le Baron V6</div>
<div class="t" style="top:1131.06px;font-size:24px;line-height:1;color:#1c1c1c;letter-spacing:-1.4px;left:839.5px;">USA</div>
<div class="t" style="top:1131.06px;font-size:24px;line-height:1;color:#1c1c1c;letter-spacing:-0.3px;left:950px;">Compact</div>
<div class="t" style="top:1131.06px;font-size:24px;line-height:1;color:#1c1c1c;letter-spacing:-0.3px;right:1077px;">3065</div>
<div style="left:354px;top:1199.5px;width:862px;height:2px;background:#e6e6e6;"></div>
<div class="t" style="top:1169.04px;font-size:24px;line-height:1;color:#666;letter-spacing:-0.3px;right:1723.5px;">28</div>
<div class="t" style="top:1169.04px;font-size:24px;line-height:1;color:#1c1c1c;letter-spacing:-0.3px;left:526px;">Chrysler New Yorker V6</div>
<div class="t" style="top:1169.04px;font-size:24px;line-height:1;color:#1c1c1c;letter-spacing:-1.4px;left:839.5px;">USA</div>
<div class="t" style="top:1169.04px;font-size:24px;line-height:1;color:#1c1c1c;letter-spacing:1.1px;left:950px;">Medium</div>
<div class="t" style="top:1169.04px;font-size:24px;line-height:1;color:#1c1c1c;letter-spacing:-0.3px;right:1077px;">3450</div>
<div style="left:354px;top:1237.5px;width:862px;height:2px;background:#e6e6e6;"></div>
<div class="t" style="top:1207.02px;font-size:24px;line-height:1;color:#666;letter-spacing:-0.3px;right:1723.5px;">29</div>
<div class="t" style="top:1207.02px;font-size:24px;line-height:1;color:#1c1c1c;letter-spacing:-0.3px;left:526px;">Dodge Caravan</div>
<div class="t" style="top:1207.02px;font-size:24px;line-height:1;color:#1c1c1c;letter-spacing:-1.4px;left:839.5px;">USA</div>
<div class="t" style="top:1207.02px;font-size:24px;line-height:1;color:#1c1c1c;letter-spacing:-0.5px;left:950px;">Large</div>
<div class="t" style="top:1207.02px;font-size:24px;line-height:1;color:#1c1c1c;letter-spacing:-0.3px;right:1077px;">3385</div>
<div style="left:354px;top:1275.5px;width:862px;height:2px;background:#e6e6e6;"></div>
<div class="t" style="top:1245.00px;font-size:24px;line-height:1;color:#666;letter-spacing:-0.3px;right:1723.5px;">30</div>
<div class="t" style="top:1245.00px;font-size:24px;line-height:1;color:#1c1c1c;letter-spacing:-0.3px;left:526px;">Dodge Colt</div>
<div class="t" style="top:1245.00px;font-size:24px;line-height:1;color:#1c1c1c;letter-spacing:-0.3px;left:839.5px;">Japan</div>
<div class="t" style="top:1245.00px;font-size:24px;line-height:1;color:#1c1c1c;letter-spacing:-0.3px;left:950px;">Small</div>
<div class="t" style="top:1245.00px;font-size:24px;line-height:1;color:#1c1c1c;letter-spacing:-0.3px;right:1077px;">2270</div>
<div style="left:354px;top:1313.5px;width:862px;height:2px;background:#e6e6e6;"></div>
<div class="t" style="top:1282.98px;font-size:24px;line-height:1;color:#666;letter-spacing:-0.3px;right:1723.5px;">31</div>
<div class="t" style="top:1282.98px;font-size:24px;line-height:1;color:#1c1c1c;letter-spacing:-0.3px;left:526px;">Dodge Daytona</div>
<div class="t" style="top:1282.98px;font-size:24px;line-height:1;color:#1c1c1c;letter-spacing:-1.4px;left:839.5px;">USA</div>
<div class="t" style="top:1282.98px;font-size:24px;line-height:1;color:#1c1c1c;letter-spacing:-0.3px;left:950px;">Sporty</div>
<div class="t" style="top:1282.98px;font-size:24px;line-height:1;color:#1c1c1c;letter-spacing:-0.3px;right:1077px;">2885</div>
<div style="left:354px;top:1351.5px;width:862px;height:2px;background:#e6e6e6;"></div>
<div class="t" style="top:1320.96px;font-size:24px;line-height:1;color:#666;letter-spacing:-0.3px;right:1723.5px;">32</div>
<div class="t" style="top:1320.96px;font-size:24px;line-height:1;color:#1c1c1c;letter-spacing:-0.3px;left:526px;">Dodge Daytona Turbo</div>
<div class="t" style="top:1320.96px;font-size:24px;line-height:1;color:#1c1c1c;letter-spacing:-1.4px;left:839.5px;">USA</div>
<div class="t" style="top:1320.96px;font-size:24px;line-height:1;color:#1c1c1c;letter-spacing:-0.3px;left:950px;">Sporty</div>
<div class="t" style="top:1320.96px;font-size:24px;line-height:1;color:#1c1c1c;letter-spacing:-0.3px;right:1077px;">2935</div>
<div style="left:354px;top:1389.5px;width:862px;height:2px;background:#e6e6e6;"></div>
<div class="t" style="top:1358.94px;font-size:24px;line-height:1;color:#666;letter-spacing:-0.3px;right:1723.5px;">33</div>
<div class="t" style="top:1358.94px;font-size:24px;line-height:1;color:#1c1c1c;letter-spacing:-0.3px;left:526px;">Dodge Dynasty</div>
<div class="t" style="top:1358.94px;font-size:24px;line-height:1;color:#1c1c1c;letter-spacing:-1.4px;left:839.5px;">USA</div>
<div class="t" style="top:1358.94px;font-size:24px;line-height:1;color:#1c1c1c;letter-spacing:1.1px;left:950px;">Medium</div>
<div class="t" style="top:1358.94px;font-size:24px;line-height:1;color:#1c1c1c;letter-spacing:-0.3px;right:1077px;">3080</div>
<svg style="left:364px;top:1365px;" width="21" height="16" viewBox="0 0 21 16"><polygon points="10.5,1 20,15 1,15" fill="#7f7f7f"/></svg>
<div style="left:1194px;top:168px;width:12px;height:256px;background:rgba(160,160,160,0.55);border-radius:6px;"></div>
<div style="left:348px;top:1396px;width:873px;height:5px;background:#bdbdbd;"></div>
<div style="left:1216px;top:2px;width:5px;height:1399px;background:#c0c0c0;"></div>
<svg style="left:1216px;top:0px;" width="340" height="56" viewBox="0 0 340 56"><path d="M6 53 V13 L12 7.5 H324 L331.5 14 V53" fill="#e6e6e6" stroke="#cdcdcd" stroke-width="1.5"/></svg>
<div style="left:1222px;top:52px;width:326px;height:1px;background:#cfcfcf;"></div>
<svg style="left:1230px;top:15px;" width="32" height="28" viewBox="0 0 32 28"><rect x="1" y="1" width="2" height="26" fill="#6a7fa6"/><rect x="3" y="3" width="22" height="6" fill="#a5cc7f"/><rect x="3" y="11" width="28" height="6" fill="#96c06e"/><rect x="3" y="19" width="17" height="6" fill="#8cba62"/></svg>
<div class="t" style="top:18.68px;font-size:24px;line-height:1;color:#6d6d6d;letter-spacing:0.12px;left:1264px;">Car Poll - Distribution</div>
<svg style="left:1512px;top:23px;" width="15" height="15" viewBox="0 0 15 15"><path d="M1.5 1.5 L13.5 13.5 M13.5 1.5 L1.5 13.5" stroke="#b0b0b0" stroke-width="2.6"/></svg>
<div style="left:1548px;top:4px;width:678px;height:6px;background:#c3c3c3;"></div>
<div style="left:1548px;top:10px;width:676px;height:48px;background:#fff;border-right:1px solid #e6e6e6;border-radius:0 0 0 0;"></div>
<svg style="left:1556px;top:15px;" width="31" height="28" viewBox="0 0 31 28"><rect x="1" y="1" width="8" height="12" fill="#e86a72"/><rect x="1" y="13" width="8" height="4" fill="#a9b6d8"/><rect x="1" y="17" width="8" height="9" fill="#7ab34e"/><rect x="11" y="1" width="8" height="9" fill="#e86a72"/><rect x="11" y="10" width="8" height="5" fill="#a9b6d8"/><rect x="11" y="15" width="8" height="11" fill="#7ab34e"/><rect x="21" y="1" width="8" height="13" fill="#e86a72"/><rect x="21" y="14" width="8" height="5" fill="#a9b6d8"/><rect x="21" y="19" width="8" height="7" fill="#7ab34e"/><rect x="1" y="26" width="29" height="2" fill="#8a9ac0"/></svg>
<div class="t" style="top:18.68px;font-size:24px;line-height:1;color:#1c1c1c;letter-spacing:-0.2px;left:1593px;">Car Physical Data - Contingency of Country by Type</div>
<div style="left:2152px;top:19px;width:17px;height:17px;border:3px solid #555;"></div>
<svg style="left:2192px;top:23px;" width="15" height="15" viewBox="0 0 15 15"><path d="M1.5 1.5 L13.5 13.5 M13.5 1.5 L1.5 13.5" stroke="#3a3a3a" stroke-width="3.6"/></svg>
<svg style="left:1228px;top:74px;" width="20" height="17" viewBox="0 0 20 17"><polygon points="1,1 19,1 10,16" fill="#b4b4b4" stroke="#a0a0a0" stroke-width="1"/></svg>
<div style="left:1254px;top:62px;width:916px;height:42px;background:#ebebeb;border:1px solid #c8c8c8;"></div>
<div style="left:1261px;top:71px;width:24px;height:21px;border:1.5px solid #c3c3c3;border-radius:4.5px;background:rgba(255,255,255,0.2);"></div>
<svg style="left:1261px;top:71px;" width="27" height="24" viewBox="0 0 27 24"><polygon points="5.9,9.4 21.1,9.4 13.5,17.6" fill="#cc0000"/></svg>
<div class="t" style="top:69.79px;font-size:28px;line-height:1;color:#1c1c1c;font-weight:700;letter-spacing:0.1px;left:1294px;">Contingency Analysis of Country By Type</div>
<svg style="left:2131px;top:68px;" width="34" height="32" viewBox="0 0 34 32"><path d="M4 12 V29 H20" fill="none" stroke="#aaa" stroke-width="2.5"/><rect x="8" y="2" width="23" height="23" rx="2" fill="none" stroke="#999" stroke-width="2.5"/><polygon points="19.5,7 21.5,12 26.5,12.5 22.7,15.8 24,21 19.5,18 15,21 16.3,15.8 12.5,12.5 17.5,12" fill="#888"/></svg>
<svg style="left:1262px;top:126px;" width="20" height="17" viewBox="0 0 20 17"><polygon points="1,1 19,1 10,16" fill="#b4b4b4" stroke="#a0a0a0" stroke-width="1"/></svg>
<div style="left:1288px;top:115px;width:882px;height:41px;background:#ebebeb;border:1px solid #c8c8c8;"></div>
<div class="t" style="top:121.69px;font-size:28px;line-height:1;color:#1c1c1c;font-weight:700;letter-spacing:0.1px;left:1294px;">Mosaic Plot</div>
<svg style="left:1280px;top:160px;" width="900" height="540" viewBox="0 0 900 540"><line x1="120" y1="30" x2="132" y2="30" stroke="#7a7a7a" stroke-width="2"/><line x1="120" y1="150" x2="132" y2="150" stroke="#7a7a7a" stroke-width="2"/><line x1="120" y1="270" x2="132" y2="270" stroke="#7a7a7a" stroke-width="2"/><line x1="120" y1="390" x2="132" y2="390" stroke="#7a7a7a" stroke-width="2"/><line x1="120" y1="510" x2="132" y2="510" stroke="#7a7a7a" stroke-width="2"/><line x1="132.5" y1="29" x2="132.5" y2="510" stroke="#7a7a7a" stroke-width="2"/><line x1="131" y1="30" x2="784" y2="30" stroke="#7a7a7a" stroke-width="2"/><line x1="772" y1="30" x2="772" y2="510" stroke="#7a7a7a" stroke-width="2"/><line x1="772" y1="510" x2="784" y2="510" stroke="#7a7a7a" stroke-width="2"/><line x1="772" y1="233" x2="784" y2="233" stroke="#7a7a7a" stroke-width="2"/><line x1="772" y1="386.5" x2="784" y2="386.5" stroke="#7a7a7a" stroke-width="2"/><line x1="131" y1="513.7" x2="773" y2="513.7" stroke="#7a7a7a" stroke-width="2"/><line x1="132.5" y1="513" x2="132.5" y2="525" stroke="#7a7a7a" stroke-width="2"/><line x1="269.70000000000005" y1="513" x2="269.70000000000005" y2="525" stroke="#7a7a7a" stroke-width="2"/><line x1="391.5" y1="513" x2="391.5" y2="525" stroke="#7a7a7a" stroke-width="2"/><line x1="513" y1="513" x2="513" y2="525" stroke="#7a7a7a" stroke-width="2"/><line x1="678.5" y1="513" x2="678.5" y2="525" stroke="#7a7a7a" stroke-width="2"/><line x1="772" y1="513" x2="772" y2="525" stroke="#7a7a7a" stroke-width="2"/><rect x="133.3" y="320.8" width="132.10000000000005" height="186.9" fill="#D4485A" stroke="#737373" stroke-width="1.7"/><rect x="133.3" y="244.0" width="132.10000000000005" height="71.20000000000002" fill="#3DAD46" stroke="#737373" stroke-width="1.7"/><rect x="133.3" y="32.8" width="132.10000000000005" height="205.6" fill="#4370DA" stroke="#737373" stroke-width="1.7"/><rect x="271.00000000000006" y="360.07272727272726" width="116.19999999999996" height="147.62727272727275" fill="#D4485A" stroke="#737373" stroke-width="1.7"/><rect x="271.00000000000006" y="98.25454545454544" width="116.19999999999996" height="256.2181818181818" fill="#3DAD46" stroke="#737373" stroke-width="1.7"/><rect x="271.00000000000006" y="32.8" width="116.19999999999996" height="59.85454545454544" fill="#4370DA" stroke="#737373" stroke-width="1.7"/><rect x="392.8" y="447.3454545454545" width="115.9" height="60.354545454545494" fill="#D4485A" stroke="#737373" stroke-width="1.7"/><rect x="392.8" y="185.52727272727276" width="115.9" height="256.21818181818173" fill="#3DAD46" stroke="#737373" stroke-width="1.7"/><rect x="392.8" y="32.8" width="115.9" height="147.12727272727275" fill="#4370DA" stroke="#737373" stroke-width="1.7"/><rect x="514.3" y="416.8" width="159.9" height="90.9" fill="#D4485A" stroke="#737373" stroke-width="1.7"/><rect x="514.3" y="288.8" width="159.9" height="122.4" fill="#3DAD46" stroke="#737373" stroke-width="1.7"/><rect x="514.3" y="32.8" width="159.9" height="250.4" fill="#4370DA" stroke="#737373" stroke-width="1.7"/><rect x="681.3" y="399.8588235294117" width="86.4" height="107.8411764705883" fill="#D4485A" stroke="#737373" stroke-width="1.7"/><rect x="681.3" y="371.62352941176465" width="86.4" height="22.63529411764707" fill="#3DAD46" stroke="#737373" stroke-width="1.7"/><rect x="681.3" y="32.8" width="86.4" height="333.2235294117646" fill="#4370DA" stroke="#737373" stroke-width="1.7"/><rect x="849" y="30" width="27" height="482" fill="none" stroke="#8a8a8a" stroke-width="2"/><rect x="853.3" y="388.6620689655172" width="15.4" height="119.5379310344828" fill="#D4485A" stroke="#737373" stroke-width="1.7"/><rect x="853.3" y="235.55862068965519" width="15.4" height="147.50344827586204" fill="#3DAD46" stroke="#737373" stroke-width="1.7"/><rect x="853.3" y="33.3" width="15.4" height="196.65862068965518" fill="#4370DA" stroke="#737373" stroke-width="1.7"/></svg>
<div class="t" style="top:180.37px;font-size:22px;line-height:1;color:#222;letter-spacing:-0.4px;right:832px;">1.00</div>
<div class="t" style="top:300.37px;font-size:22px;line-height:1;color:#222;letter-spacing:-0.4px;right:832px;">0.75</div>
<div class="t" style="top:420.37px;font-size:22px;line-height:1;color:#222;letter-spacing:-0.4px;right:832px;">0.50</div>
<div class="t" style="top:540.37px;font-size:22px;line-height:1;color:#222;letter-spacing:-0.4px;right:832px;">0.25</div>
<div class="t" style="top:660.37px;font-size:22px;line-height:1;color:#222;letter-spacing:-0.4px;right:832px;">0</div>
<div style="left:1322px;top:430px;width:0;height:0;"><div style="white-space:nowrap;left:-60px;top:-12px;width:120px;text-align:center;font-size:24px;line-height:24px;color:#222;transform:rotate(-90deg) scaleY(1.06);transform-origin:50% 50%;letter-spacing:-0.3px">Country</div></div>
<div class="t" style="top:679.18px;font-size:24px;line-height:1;color:#222;letter-spacing:-0.1px;left:879.0999999999999px;width:1200px;text-align:center;">Sporty</div>
<div class="t" style="top:679.18px;font-size:24px;line-height:1;color:#222;letter-spacing:-0.1px;left:1008.8499999999999px;width:1200px;text-align:center;">Small</div>
<div class="t" style="top:679.18px;font-size:24px;line-height:1;color:#222;letter-spacing:-0.1px;left:1130.5px;width:1200px;text-align:center;">Compact</div>
<div class="t" style="top:679.18px;font-size:24px;line-height:1;color:#222;letter-spacing:1.2px;left:1273.0px;width:1200px;text-align:center;">Medium</div>
<div class="t" style="top:679.18px;font-size:24px;line-height:1;color:#222;letter-spacing:-0.1px;left:1403.5px;width:1200px;text-align:center;">Large</div>
<div class="t" style="top:712.68px;font-size:24px;line-height:1;color:#222;letter-spacing:-0.3px;left:1131px;width:1200px;text-align:center;">Type</div>
<div class="t" style="top:278.53px;font-size:23px;line-height:1;color:#222;letter-spacing:-1.2px;left:2054px;">USA</div>
<div class="t" style="top:456.53px;font-size:23px;line-height:1;color:#222;letter-spacing:-0.2px;left:2055px;">Other</div>
<div class="t" style="top:597.53px;font-size:23px;line-height:1;color:#222;letter-spacing:-0.4px;left:2054px;">Japan</div>
<svg style="left:1262px;top:768px;" width="20" height="17" viewBox="0 0 20 17"><polygon points="1,1 19,1 10,16" fill="#b4b4b4" stroke="#a0a0a0" stroke-width="1"/></svg>
<div style="left:1288px;top:756px;width:571px;height:42px;background:#ebebeb;border:1px solid #c8c8c8;"></div>
<div style="left:1295px;top:766px;width:24px;height:20px;border:1.5px solid #c3c3c3;border-radius:4.5px;background:rgba(255,255,255,0.2);"></div>
<svg style="left:1295px;top:766px;" width="27" height="23" viewBox="0 0 27 23"><polygon points="5.9,8.9 21.1,8.9 13.5,17.1" fill="#cc0000"/></svg>
<div class="t" style="top:764.29px;font-size:28px;line-height:1;color:#1c1c1c;font-weight:700;letter-spacing:0.33px;left:1327px;">Contingency Table</div>
<div class="t" style="top:815.68px;font-size:24px;line-height:1;color:#222;letter-spacing:-0.2px;left:995px;width:1200px;text-align:center;">Country</div>
<div style="left:1436px;top:845px;width:424px;height:128px;background:#ebebea;"></div>
<div style="left:1331px;top:876px;width:104px;height:31px;background:#f4f4f2;"></div>
<div style="left:1331px;top:940px;width:104px;height:31px;background:#f4f4f2;"></div>
<div class="t" style="top:848.48px;font-size:24px;line-height:1;color:#1c1c1c;letter-spacing:-0.3px;left:1335px;">Count</div>
<div class="t" style="top:880.48px;font-size:24px;line-height:1;color:#1c1c1c;letter-spacing:-0.3px;left:1335px;">Total %</div>
<div class="t" style="top:912.48px;font-size:24px;line-height:1;color:#1c1c1c;letter-spacing:-0.3px;left:1335px;">Col %</div>
<div class="t" style="top:944.48px;font-size:24px;line-height:1;color:#1c1c1c;letter-spacing:-0.3px;left:1335px;">Row %</div>
<div class="t" style="top:847.88px;font-size:24px;line-height:1;color:#1c1c1c;letter-spacing:-0.6px;left:1439.5px;">Japan</div>
<div class="t" style="top:847.88px;font-size:24px;line-height:1;color:#1c1c1c;letter-spacing:-0.6px;left:1545.5px;">Other</div>
<div class="t" style="top:847.88px;font-size:24px;line-height:1;color:#1c1c1c;letter-spacing:-0.6px;left:1652.5px;">USA</div>
<div class="t" style="top:847.88px;font-size:24px;line-height:1;color:#1c1c1c;letter-spacing:-0.6px;left:1758.5px;">Total</div>
<div style="left:1331px;top:973.0px;width:105px;height:128px;background:#ebebea;"></div>
<div class="t" style="top:972.18px;font-size:24px;line-height:1;color:#1c1c1c;letter-spacing:-0.3px;left:1335px;">Sporty</div>
<div class="t" style="top:974.73px;font-size:23px;line-height:1;color:#1c1c1c;letter-spacing:-0.3px;right:690px;">10</div>
<div class="t" style="top:974.73px;font-size:23px;line-height:1;color:#1c1c1c;letter-spacing:-0.3px;right:583px;">4</div>
<div class="t" style="top:974.73px;font-size:23px;line-height:1;color:#1c1c1c;letter-spacing:-0.3px;right:477px;">11</div>
<div class="t" style="top:974.73px;font-size:23px;line-height:1;color:#1c1c1c;letter-spacing:-0.3px;right:372px;">25</div>
<div style="left:1440px;top:1005.0px;width:98px;height:30px;background:#f4f4f2;"></div>
<div style="left:1546px;top:1005.0px;width:98px;height:30px;background:#f4f4f2;"></div>
<div style="left:1653px;top:1005.0px;width:98px;height:30px;background:#f4f4f2;"></div>
<div style="left:1759px;top:1005.0px;width:98px;height:30px;background:#f4f4f2;"></div>
<div class="t" style="top:1006.73px;font-size:23px;line-height:1;color:#1c1c1c;letter-spacing:-0.3px;right:690px;">8.62</div>
<div class="t" style="top:1006.73px;font-size:23px;line-height:1;color:#1c1c1c;letter-spacing:-0.3px;right:583px;">3.45</div>
<div class="t" style="top:1006.73px;font-size:23px;line-height:1;color:#1c1c1c;letter-spacing:-0.3px;right:477px;">9.48</div>
<div class="t" style="top:1006.73px;font-size:23px;line-height:1;color:#1c1c1c;letter-spacing:-0.3px;right:372px;">21.55</div>
<div class="t" style="top:1038.73px;font-size:23px;line-height:1;color:#1c1c1c;letter-spacing:-0.3px;right:690px;">33.33</div>
<div class="t" style="top:1038.73px;font-size:23px;line-height:1;color:#1c1c1c;letter-spacing:-0.3px;right:583px;">10.81</div>
<div class="t" style="top:1038.73px;font-size:23px;line-height:1;color:#1c1c1c;letter-spacing:-0.3px;right:477px;">22.45</div>
<div style="left:1440px;top:1069.0px;width:98px;height:30px;background:#f4f4f2;"></div>
<div style="left:1546px;top:1069.0px;width:98px;height:30px;background:#f4f4f2;"></div>
<div style="left:1653px;top:1069.0px;width:98px;height:30px;background:#f4f4f2;"></div>
<div class="t" style="top:1070.73px;font-size:23px;line-height:1;color:#1c1c1c;letter-spacing:-0.3px;right:690px;">40.00</div>
<div class="t" style="top:1070.73px;font-size:23px;line-height:1;color:#1c1c1c;letter-spacing:-0.3px;right:583px;">16.00</div>
<div class="t" style="top:1070.73px;font-size:23px;line-height:1;color:#1c1c1c;letter-spacing:-0.3px;right:477px;">44.00</div>
<div style="left:1331px;top:1100.5px;width:105px;height:128px;background:#ebebea;"></div>
<div class="t" style="top:1099.68px;font-size:24px;line-height:1;color:#1c1c1c;letter-spacing:-0.3px;left:1335px;">Small</div>
<div class="t" style="top:1102.23px;font-size:23px;line-height:1;color:#1c1c1c;letter-spacing:-0.3px;right:690px;">7</div>
<div class="t" style="top:1102.23px;font-size:23px;line-height:1;color:#1c1c1c;letter-spacing:-0.3px;right:583px;">12</div>
<div class="t" style="top:1102.23px;font-size:23px;line-height:1;color:#1c1c1c;letter-spacing:-0.3px;right:477px;">3</div>
<div class="t" style="top:1102.23px;font-size:23px;line-height:1;color:#1c1c1c;letter-spacing:-0.3px;right:372px;">22</div>
<div style="left:1440px;top:1132.5px;width:98px;height:30px;background:#f4f4f2;"></div>
<div style="left:1546px;top:1132.5px;width:98px;height:30px;background:#f4f4f2;"></div>
<div style="left:1653px;top:1132.5px;width:98px;height:30px;background:#f4f4f2;"></div>
<div style="left:1759px;top:1132.5px;width:98px;height:30px;background:#f4f4f2;"></div>
<div class="t" style="top:1134.23px;font-size:23px;line-height:1;color:#1c1c1c;letter-spacing:-0.3px;right:690px;">6.03</div>
<div class="t" style="top:1134.23px;font-size:23px;line-height:1;color:#1c1c1c;letter-spacing:-0.3px;right:583px;">10.34</div>
<div class="t" style="top:1134.23px;font-size:23px;line-height:1;color:#1c1c1c;letter-spacing:-0.3px;right:477px;">2.59</div>
<div class="t" style="top:1134.23px;font-size:23px;line-height:1;color:#1c1c1c;letter-spacing:-0.3px;right:372px;">18.97</div>
<div class="t" style="top:1166.23px;font-size:23px;line-height:1;color:#1c1c1c;letter-spacing:-0.3px;right:690px;">23.33</div>
<div class="t" style="top:1166.23px;font-size:23px;line-height:1;color:#1c1c1c;letter-spacing:-0.3px;right:583px;">32.43</div>
<div class="t" style="top:1166.23px;font-size:23px;line-height:1;color:#1c1c1c;letter-spacing:-0.3px;right:477px;">6.12</div>
<div style="left:1440px;top:1196.5px;width:98px;height:30px;background:#f4f4f2;"></div>
<div style="left:1546px;top:1196.5px;width:98px;height:30px;background:#f4f4f2;"></div>
<div style="left:1653px;top:1196.5px;width:98px;height:30px;background:#f4f4f2;"></div>
<div class="t" style="top:1198.23px;font-size:23px;line-height:1;color:#1c1c1c;letter-spacing:-0.3px;right:690px;">31.82</div>
<div class="t" style="top:1198.23px;font-size:23px;line-height:1;color:#1c1c1c;letter-spacing:-0.3px;right:583px;">54.55</div>
<div class="t" style="top:1198.23px;font-size:23px;line-height:1;color:#1c1c1c;letter-spacing:-0.3px;right:477px;">13.64</div>
<div style="left:1331px;top:1228.0px;width:105px;height:128px;background:#ebebea;"></div>
<div class="t" style="top:1227.18px;font-size:24px;line-height:1;color:#1c1c1c;letter-spacing:-0.3px;left:1335px;">Compact</div>
<div class="t" style="top:1229.73px;font-size:23px;line-height:1;color:#1c1c1c;letter-spacing:-0.3px;right:690px;">3</div>
<div class="t" style="top:1229.73px;font-size:23px;line-height:1;color:#1c1c1c;letter-spacing:-0.3px;right:583px;">12</div>
<div class="t" style="top:1229.73px;font-size:23px;line-height:1;color:#1c1c1c;letter-spacing:-0.3px;right:477px;">7</div>
<div class="t" style="top:1229.73px;font-size:23px;line-height:1;color:#1c1c1c;letter-spacing:-0.3px;right:372px;">22</div>
<div style="left:1440px;top:1260.0px;width:98px;height:30px;background:#f4f4f2;"></div>
<div style="left:1546px;top:1260.0px;width:98px;height:30px;background:#f4f4f2;"></div>
<div style="left:1653px;top:1260.0px;width:98px;height:30px;background:#f4f4f2;"></div>
<div style="left:1759px;top:1260.0px;width:98px;height:30px;background:#f4f4f2;"></div>
<div class="t" style="top:1261.73px;font-size:23px;line-height:1;color:#1c1c1c;letter-spacing:-0.3px;right:690px;">2.59</div>
<div class="t" style="top:1261.73px;font-size:23px;line-height:1;color:#1c1c1c;letter-spacing:-0.3px;right:583px;">10.34</div>
<div class="t" style="top:1261.73px;font-size:23px;line-height:1;color:#1c1c1c;letter-spacing:-0.3px;right:477px;">6.03</div>
<div class="t" style="top:1261.73px;font-size:23px;line-height:1;color:#1c1c1c;letter-spacing:-0.3px;right:372px;">18.97</div>
<div class="t" style="top:1293.73px;font-size:23px;line-height:1;color:#1c1c1c;letter-spacing:-0.3px;right:690px;">10.00</div>
<div class="t" style="top:1293.73px;font-size:23px;line-height:1;color:#1c1c1c;letter-spacing:-0.3px;right:583px;">32.43</div>
<div class="t" style="top:1293.73px;font-size:23px;line-height:1;color:#1c1c1c;letter-spacing:-0.3px;right:477px;">14.29</div>
<div style="left:1440px;top:1324.0px;width:98px;height:30px;background:#f4f4f2;"></div>
<div style="left:1546px;top:1324.0px;width:98px;height:30px;background:#f4f4f2;"></div>
<div style="left:1653px;top:1324.0px;width:98px;height:30px;background:#f4f4f2;"></div>
<div class="t" style="top:1325.73px;font-size:23px;line-height:1;color:#1c1c1c;letter-spacing:-0.3px;right:690px;">13.64</div>
<div class="t" style="top:1325.73px;font-size:23px;line-height:1;color:#1c1c1c;letter-spacing:-0.3px;right:583px;">54.55</div>
<div class="t" style="top:1325.73px;font-size:23px;line-height:1;color:#1c1c1c;letter-spacing:-0.3px;right:477px;">31.82</div>
<div style="left:1331px;top:1355.5px;width:105px;height:128px;background:#ebebea;"></div>
<div class="t" style="top:1354.68px;font-size:24px;line-height:1;color:#1c1c1c;letter-spacing:-0.3px;left:1335px;">Medium</div>
<div class="t" style="top:1357.23px;font-size:23px;line-height:1;color:#1c1c1c;letter-spacing:-0.3px;right:690px;">6</div>
<div class="t" style="top:1357.23px;font-size:23px;line-height:1;color:#1c1c1c;letter-spacing:-0.3px;right:583px;">8</div>
<div class="t" style="top:1357.23px;font-size:23px;line-height:1;color:#1c1c1c;letter-spacing:-0.3px;right:477px;">16</div>
<div class="t" style="top:1357.23px;font-size:23px;line-height:1;color:#1c1c1c;letter-spacing:-0.3px;right:372px;">30</div>
<div style="left:1440px;top:1387.5px;width:98px;height:30px;background:#f4f4f2;"></div>
<div style="left:1546px;top:1387.5px;width:98px;height:30px;background:#f4f4f2;"></div>
<div style="left:1653px;top:1387.5px;width:98px;height:30px;background:#f4f4f2;"></div>
<div style="left:1759px;top:1387.5px;width:98px;height:30px;background:#f4f4f2;"></div>
<div class="t" style="top:1389.23px;font-size:23px;line-height:1;color:#1c1c1c;letter-spacing:-0.3px;right:690px;">5.17</div>
<div class="t" style="top:1389.23px;font-size:23px;line-height:1;color:#1c1c1c;letter-spacing:-0.3px;right:583px;">6.90</div>
<div class="t" style="top:1389.23px;font-size:23px;line-height:1;color:#1c1c1c;letter-spacing:-0.3px;right:477px;">13.79</div>
<div class="t" style="top:1389.23px;font-size:23px;line-height:1;color:#1c1c1c;letter-spacing:-0.3px;right:372px;">25.86</div>
<div style="left:1330px;top:844px;width:2px;height:557px;background:#a9a9a2;"></div>
<div style="left:1436px;top:844px;width:2px;height:557px;background:#a9a9a2;"></div>
<div style="left:1542px;top:844px;width:2px;height:557px;background:#a9a9a2;"></div>
<div style="left:1649px;top:844px;width:2px;height:557px;background:#a9a9a2;"></div>
<div style="left:1755px;top:844px;width:2px;height:557px;background:#a9a9a2;"></div>
<div style="left:1860px;top:844px;width:2px;height:557px;background:#a9a9a2;"></div>
<div style="left:1330px;top:844px;width:532px;height:2px;background:#a9a9a2;"></div>
<div style="left:1330px;top:972.0px;width:532px;height:2px;background:#a9a9a2;"></div>
<div style="left:1330px;top:1099.5px;width:532px;height:2px;background:#a9a9a2;"></div>
<div style="left:1330px;top:1227.0px;width:532px;height:2px;background:#a9a9a2;"></div>
<div style="left:1330px;top:1354.5px;width:532px;height:2px;background:#a9a9a2;"></div>
<div style="left:1317px;top:1228px;width:0;height:0;"><div style="white-space:nowrap;left:-60px;top:-12px;width:120px;text-align:center;font-size:23px;line-height:24px;color:#222;transform:rotate(-90deg) scaleY(1.06);transform-origin:50% 50%;letter-spacing:-0.3px">Type</div></div>
</body></html>
